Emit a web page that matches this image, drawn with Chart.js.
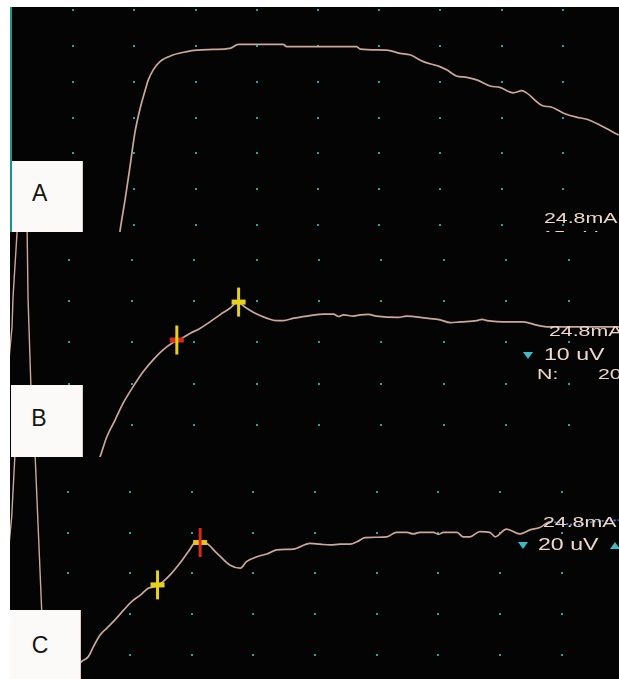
<!DOCTYPE html>
<html>
<head>
<meta charset="utf-8">
<script src="https://cdn.jsdelivr.net/npm/chart.js@4.4.1/dist/chart.umd.min.js"></script>
<style>
html,body{margin:0;padding:0;background:#ffffff;}
#root{position:relative;width:619px;height:679px;overflow:hidden;background:#ffffff;}
.panel{position:absolute;left:10px;width:609px;background:#040404;overflow:hidden;}
.panel canvas{position:absolute;left:0;top:0;}
.box{position:absolute;background:#fcfaf8;box-sizing:border-box;border-right:1px solid #dccbc2;}
.letter{position:absolute;font-family:"Liberation Sans",Arial,sans-serif;font-size:23px;line-height:23px;color:#151515;white-space:nowrap;}
.ro15{position:absolute;font-family:"Liberation Sans",Arial,sans-serif;font-size:15px;line-height:15px;color:#efd8ca;white-space:nowrap;transform:scaleX(1.42);transform-origin:0 0;}
.ro17{position:absolute;font-family:"Liberation Sans",Arial,sans-serif;font-size:17px;line-height:17px;color:#efd8ca;white-space:nowrap;transform:scaleX(1.36);transform-origin:0 0;}
.tri-d{position:absolute;width:0;height:0;border-left:5px solid transparent;border-right:5px solid transparent;border-top:7px solid #3cbcc6;}
.tri-u{position:absolute;width:0;height:0;border-left:5px solid transparent;border-right:5px solid transparent;border-bottom:7px solid #3cbcc6;}
#tealEdge{position:absolute;left:10px;top:7px;width:2px;height:225px;background:#19968d;}
</style>
</head>
<body>
<div id="root">
  <div class="panel" id="pA" style="top:7px;height:225px;">
    <canvas id="cA" width="609" height="225"></canvas>
    <div class="box" style="left:1px;top:154px;width:72px;height:71px;"></div>
    <div class="letter" style="left:22px;top:175px;">A</div>
    <div class="ro15" style="left:534px;top:202.7px;">24.8mA</div>
    <div class="ro15" style="left:532px;top:221px;">15 uV</div>
  </div>
  <div class="panel" id="pB" style="top:232px;height:225px;">
    <canvas id="cB" width="609" height="225"></canvas>
    <div class="box" style="left:1px;top:153px;width:72px;height:72px;"></div>
    <div class="letter" style="left:21.3px;top:175px;">B</div>
    <div class="ro15" style="left:539.4px;top:91.3px;">24.8mA</div>
    <div class="tri-d" style="left:513px;top:120px;"></div>
    <div class="ro17" style="left:534.4px;top:113.5px;">10 uV</div>
    <div class="ro15" style="left:527.4px;top:133.7px;">N:</div>
    <div class="ro15" style="left:588.4px;top:133.7px;">20</div>
  </div>
  <div class="panel" id="pC" style="top:457px;height:222px;">
    <canvas id="cC" width="609" height="222"></canvas>
    <div class="box" style="left:0px;top:153px;width:71px;height:69px;"></div>
    <div class="letter" style="left:21.8px;top:177px;">C</div>
    <div class="ro15" style="left:532.7px;top:57px;">24.8mA</div>
    <div class="tri-d" style="left:508px;top:85px;"></div>
    <div class="ro17" style="left:528px;top:78.5px;">20 uV</div>
    <div class="tri-u" style="left:600px;top:84.7px;"></div>
  </div>
  <div id="tealEdge"></div>
</div>
<script>
// ---- Data (time in horizontal divisions, amplitude in vertical divisions) ----
const aTime  = [1.75,1.77,1.85,1.93,2.01,2.09,2.18,2.23,2.31,2.42,2.64,2.86,3.02,3.29,3.56,3.70,4.43,4.49,4.87,5.63,5.69,6.12,6.34,6.50,6.72,6.99,7.10,7.26,7.43,7.59,7.81,7.97,8.19,8.33,8.41,8.68,8.79,9.01,9.22,9.39,9.60,9.91];
const aValue = [-0.42,-0.14,0.70,1.62,2.57,3.21,3.77,4.05,4.33,4.56,4.75,4.84,4.88,4.90,4.93,5.04,5.04,4.98,4.98,4.98,4.91,4.88,4.79,4.75,4.56,4.42,4.33,4.16,4.12,4.05,3.88,3.84,3.69,3.75,3.68,3.32,3.30,3.12,3.01,2.95,2.79,2.51];

const bTime  = [1.44,1.49,1.60,1.73,1.86,2.02,2.18,2.34,2.50,2.66,2.80,2.93,3.09,3.25,3.41,3.57,3.69,3.84,4.00,4.16,4.32,4.43,4.59,4.85,5.07,5.23,5.31,5.39,5.55,5.66,5.79,5.92,6.27,6.40,6.72,6.94,7.10,7.26,7.53,7.61,7.69,8.06,8.27,8.49,8.70,9.81];
const bValue = [-0.97,-0.77,-0.28,0.12,0.53,0.93,1.29,1.58,1.82,2.00,2.10,2.22,2.34,2.50,2.67,2.83,2.97,2.83,2.69,2.59,2.53,2.53,2.59,2.65,2.69,2.69,2.63,2.67,2.64,2.67,2.68,2.64,2.61,2.64,2.59,2.55,2.48,2.50,2.53,2.56,2.53,2.50,2.50,2.42,2.38,2.38];
const bArtifact1Time  = [0.17,0.16,0.095,0.079,0.03];
const bArtifact1Value = [4.85,4.68,3.10,2.38,1.58];
const bArtifact2Time  = [0.32,0.335,0.38,0.415];
const bArtifact2Value = [4.85,3.10,1.02,-0.85];
const bCursorTime  = [2.72,3.71];
const bCursorValue = [2.06,2.98];

const cTime  = [1.03,1.22,1.33,1.41,1.52,1.63,1.76,1.90,2.03,2.17,2.30,2.44,2.54,2.68,2.81,2.95,3.08,3.22,3.41,3.62,3.79,3.89,4.06,4.22,4.38,4.65,4.92,5.08,5.24,5.41,5.57,5.68,5.81,6.00,6.16,6.32,6.49,6.59,6.70,6.92,7.00,7.08,7.30,7.40,7.51,7.67,7.83,7.92,8.10,8.32,8.48,8.64,8.81,9.02,9.24,9.51,9.92];
const cValue = [-0.49,-0.16,-0.04,0.20,0.49,0.66,0.86,1.10,1.31,1.47,1.64,1.69,1.80,2.01,2.25,2.54,2.78,2.76,2.50,2.21,2.13,2.29,2.41,2.48,2.58,2.60,2.74,2.72,2.70,2.72,2.72,2.78,2.88,2.89,2.90,3.01,3.01,2.97,3.01,3.01,2.96,3.01,3.01,2.90,2.90,3.03,3.01,2.90,3.09,2.97,3.07,3.13,3.27,3.23,3.19,3.27,3.31];
const cArtifact1Time  = [0.147,0.142,0.088,0.045];
const cArtifact1Value = [5.15,4.95,3.39,2.70];
const cArtifact2Time  = [0.461,0.466,0.574,0.595];
const cArtifact2Value = [5.15,4.95,1.10,0.37];
const cCursorTime  = [2.45,3.14];
const cCursorValue = [1.72,2.76];

const gridCols = [1,2,3,4,5,6,7,8,9];
const gridRowsA = [0,1,2,3,4,5,6];
const gridRowsBC = [0,1,2,3,4];

// ---- Styles ----
const TRACE = '#cba89c';
const YELLOW = '#e6d21c';
const RED = '#d8281e';
const DOT = '#27a3a0';

const zip = (xs, ys) => xs.map((x, i) => ({x, y: ys[i]}));

const gridDots = {
  id: 'gridDots',
  beforeDatasetsDraw(chart, args, opts) {
    const {ctx, scales: {x, y}} = chart;
    ctx.save();
    ctx.fillStyle = opts.color;
    for (const c of opts.cols) {
      for (const r of opts.rows) {
        const px = x.getPixelForValue(c), py = y.getPixelForValue(r);
        ctx.fillRect(Math.round(px) - 1, Math.round(py) - 1, 2, 2);
      }
    }
    ctx.restore();
  }
};

function traceDs(t, v, extra) {
  return Object.assign({
    data: zip(t, v), borderColor: TRACE, borderWidth: 1.7, pointRadius: 0,
    cubicInterpolationMode: 'monotone', fill: false, order: 3
  }, extra || {});
}
function artifactDs(t, v) {
  return {data: zip(t, v), borderColor: TRACE, borderWidth: 1.4, pointRadius: 0, tension: 0, fill: false, order: 3};
}
function barDs(t, v, colors) {
  return {data: zip(t, v), showLine: false, pointStyle: 'line', pointRadius: 7,
    pointBorderWidth: 5, pointBorderColor: colors, pointBackgroundColor: colors, order: 2};
}
function vertDs(t, v, colors) {
  return {data: zip(t, v), showLine: false, pointStyle: 'line', pointRotation: 90, pointRadius: 14.5,
    pointBorderWidth: 3, pointBorderColor: colors, pointBackgroundColor: colors, order: 1};
}

function makePanel(id, datasets, xr, yr, rows) {
  return new Chart(document.getElementById(id), {
    type: 'line',
    data: {datasets},
    options: {
      responsive: false, animation: false, devicePixelRatio: 1, events: [],
      layout: {padding: 0, autoPadding: false},
      plugins: {
        legend: {display: false}, tooltip: {enabled: false}, title: {display: false},
        gridDots: {cols: gridCols, rows: rows, color: DOT}
      },
      scales: {
        x: {type: 'linear', display: false, min: xr[0], max: xr[1]},
        y: {type: 'linear', display: false, min: yr[0], max: yr[1]}
      }
    },
    plugins: [gridDots]
  });
}

makePanel('cA', [traceDs(aTime, aValue)], [-0.0286, 9.9143], [-0.1954, 6.0843], gridRowsA);

makePanel('cB', [
  traceDs(bTime, bValue),
  artifactDs(bArtifact1Time, bArtifact1Value),
  artifactDs(bArtifact2Time, bArtifact2Value),
  barDs(bCursorTime, bCursorValue, [RED, YELLOW]),
  vertDs(bCursorTime, bCursorValue, [YELLOW, YELLOW])
], [0.0465, 9.8061], [-0.7758, 4.6788], gridRowsBC);

makePanel('cC', [
  traceDs(cTime, cValue, {
    segment: {
      borderColor: ctx => ctx.p0.parsed.x >= 8.8 ? '#5b88da' : undefined,
      borderDash: ctx => ctx.p0.parsed.x >= 8.8 ? [2, 2] : undefined
    }
  }),
  artifactDs(cArtifact1Time, cArtifact1Value),
  artifactDs(cArtifact2Time, cArtifact2Value),
  barDs(cCursorTime, cCursorValue, [YELLOW, '#e8c41c']),
  vertDs(cCursorTime, cCursorValue, [YELLOW, RED])
], [0.0607, 9.9231], [-0.5890, 4.8589], gridRowsBC);
</script>
</body>
</html>
